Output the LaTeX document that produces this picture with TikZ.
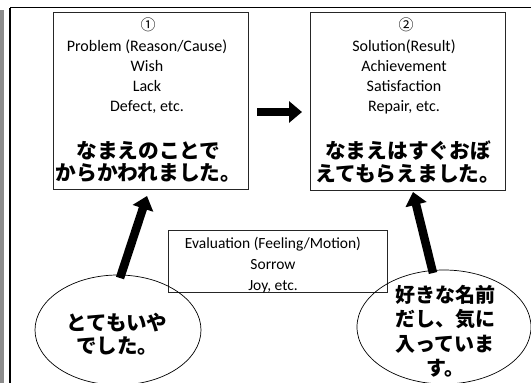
\documentclass[tikz,border=0pt]{standalone}
\usepackage{fontspec}
\setmainfont{Carlito}
\newfontfamily\jpfont{Noto Sans CJK JP}
\usetikzlibrary{arrows.meta,shapes.geometric}
\begin{document}
\begin{tikzpicture}[x=1pt,y=-1pt,
  box/.style={draw=black!85, line width=1pt, inner sep=0},
  bubble/.style={draw, ellipse, line width=0.7pt, inner sep=0},
  en/.style={font=\fontsize{16}{20}\selectfont, align=center, inner sep=0},
  num/.style={font=\jpfont\fontsize{15}{20}\selectfont, inner sep=0},
  jp/.style={font=\jpfont\bfseries\fontsize{20.7}{22.5}\selectfont, align=center, inner sep=0},
  bigarrow/.style={line width=8.5pt, -{Triangle[length=13pt,width=21pt]}}]
\useasboundingbox (0,0) rectangle (531,383);

% page frame
\fill[black!45] (0,10) rectangle (3.5,383);
\draw[line width=1.5pt] (10,7.5) -- (545,7.5);
\draw[line width=1.5pt] (10,7.5) -- (10,395);

% the two main boxes
\node[box, minimum width=195, minimum height=177] (b1) at (150.5,100.5) {};
\node[box, minimum width=195, minimum height=178] (b2) at (407.5,101) {};

\node[num] (n1) at (148,25) {①};
\node[en] (t1) at (147,77) {Problem (Reason/Cause)\\Wish\\Lack\\Defect, etc.};
\node[jp] (j1) at (148.5,162) {なまえのことで\\からかわれました。};

\node[num] (n2) at (406,25) {②};
\node[en] (t2) at (404,77) {Solution(Result)\\Achievement\\Satisfaction\\Repair, etc.};
\node[jp] (j2) at (408,162) {なまえはすぐおぼ\\えてもらえました。};

% evaluation box
\node[box, minimum width=219, minimum height=62] (b3) at (277.5,261) {};
\node[en, font=\fontsize{15.5}{21}\selectfont] (t3) at (273,265) {Evaluation (Feeling/Motion)\\Sorrow\\Joy, etc.};

% feeling bubbles
\node[bubble, minimum width=166, minimum height=110] (e1) at (118,330) {};
\node[jp, font=\jpfont\bfseries\fontsize{20.5}{23}\selectfont] (j3) at (117,334) {とてもいや\\でした。};
\node[bubble, minimum width=174, minimum height=114] (e2) at (444,327) {};
\node[jp, font=\jpfont\bfseries\fontsize{20}{24.5}\selectfont] (j4) at (445,331) {好きな名前\\だし、気に\\入っていま\\す。};

% arrows
\coordinate (a0s) at (257,112);
\coordinate (a0e) at (302,112);
\draw[bigarrow] (a0s) -- (a0e);
\coordinate (a1s) at (120,278);
\coordinate (a1e) at (147,196);
\draw[bigarrow] (a1s) -- (a1e);
\coordinate (a2s) at (433,273);
\coordinate (a2e) at (413,192);
\draw[bigarrow] (a2s) -- (a2e);
\end{tikzpicture}
\end{document}
